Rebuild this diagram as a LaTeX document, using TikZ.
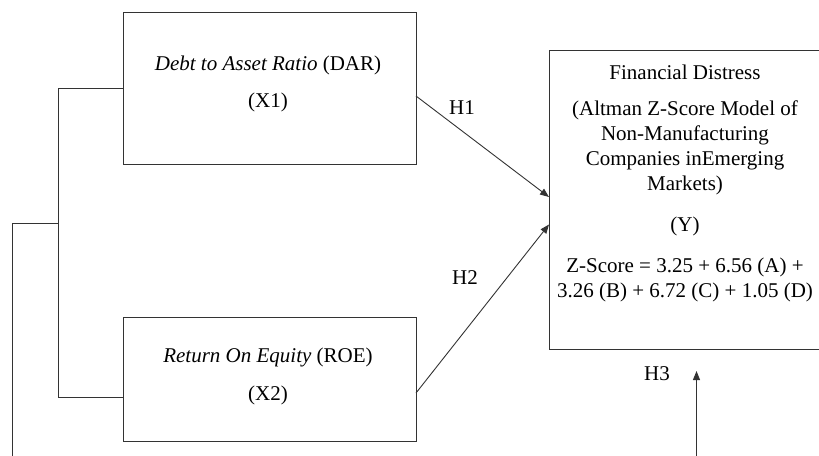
\documentclass[tikz,border=0pt]{standalone}
\usepackage{fontspec}
\setmainfont{Liberation Serif}
\usetikzlibrary{arrows.meta}
\begin{document}
\begin{tikzpicture}[x=1pt,y=-1pt,
  box/.style={draw=black!80, line width=0.9pt, anchor=north west, inner sep=0pt, outer sep=0pt},
  txt/.style={font=\fontsize{21}{25}\selectfont, inner sep=0pt, anchor=base},
  conn/.style={draw=black!80, line width=0.9pt},
  arr/.style={conn, -{Triangle[length=9pt,width=7pt]}}]
\useasboundingbox (0,0) rectangle (819,455);
\clip (0,0) rectangle (819,455);
% boxes
\node[box, minimum width=293pt, minimum height=152pt] (x1) at (123,12) {};
\node[box, minimum width=293pt, minimum height=124pt] (x2) at (123,317) {};
\node[box, minimum width=273pt, minimum height=299pt] (y) at (549,50) {};
% X1 text
\node[txt] (x1a) at (268,70) {\textit{Debt to Asset Ratio} (DAR)};
\node[txt] (x1b) at (268,107) {(X1)};
% X2 text
\node[txt] (x2a) at (268,362) {\textit{Return On Equity} (ROE)};
\node[txt] (x2b) at (268,400) {(X2)};
% Y text
\node[txt] (ya) at (685,79) {Financial Distress};
\node[txt] (yb) at (685,115) {(Altman Z-Score Model of};
\node[txt] (yc) at (685,140) {Non-Manufacturing};
\node[txt] (yd) at (685,165) {Companies inEmerging};
\node[txt] (ye) at (685,190) {Markets)};
\node[txt] (yf) at (685,231) {(Y)};
\node[txt] (yg) at (685,272) {Z-Score = 3.25 + 6.56 (A) +};
\node[txt] (yh) at (685,297) {3.26 (B) + 6.72 (C) + 1.05 (D)};
% labels
\node[txt] (h1) at (462,114) {H1};
\node[txt] (h2) at (465,284) {H2};
\node[txt] (h3) at (657,380) {H3};
% arrows
\draw[arr] ([yshift=-8pt]x1.east) -- ([yshift=2.5pt]y.west);
\draw[arr] ([yshift=-14pt]x2.east) -- ([yshift=-25pt]y.west);
% bracket
\coordinate (bj) at (58,223);
\coordinate (ol) at (12.5,223);
\coordinate (olb) at (12.5,470);
\draw[conn] (x1.west) -| (bj);
\draw[conn] (bj) |- ([yshift=-18pt]x2.west);
\draw[conn] (bj) -- (ol) -- (olb);
% H3 arrow
\coordinate (h3b) at (696.5,470);
\coordinate (h3t) at (696.5,371);
\draw[arr] (h3b) -- (h3t);
\end{tikzpicture}
\end{document}
